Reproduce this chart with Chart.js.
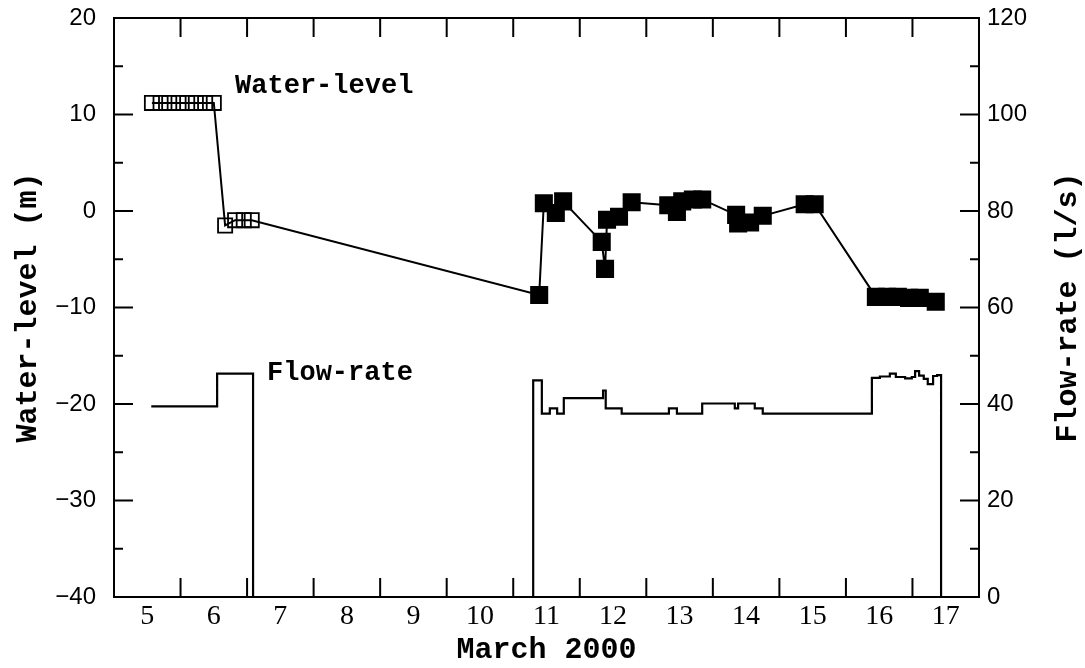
<!DOCTYPE html>
<html>
<head>
<meta charset="utf-8">
<script src="https://cdn.jsdelivr.net/npm/chart.js@4/dist/chart.umd.min.js"></script>
<style>html,body{margin:0;padding:0;background:#fff}</style>
</head>
<body>
<canvas id="chart" width="1085" height="668" style="width:1085px;height:668px"></canvas>
<script>
// day of March 2000 (label 5 = March 5) and readings
const wlDays = [5.07, 5.2, 5.33, 5.47, 5.6, 5.73, 5.87, 6.0, 6.17, 6.32, 6.45, 6.57,
  10.89, 10.96, 11.14, 11.25, 11.83, 11.88, 11.91, 12.09, 12.28, 12.83, 12.96, 13.04,
  13.2, 13.34, 13.85, 13.88, 14.06, 14.25, 14.88, 15.03, 15.95, 16.12, 16.28, 16.45, 16.61, 16.85];
const wlValues = [11.2, 11.2, 11.2, 11.2, 11.2, 11.2, 11.2, 11.2, -1.5, -0.95, -0.95, -0.95,
  -8.7, 0.8, -0.2, 1.0, -3.2, -6.0, -0.9, -0.6, 0.9, 0.6, -0.1, 1.0,
  1.2, 1.2, -0.4, -1.3, -1.2, -0.5, 0.7, 0.7, -8.9, -8.9, -8.9, -9.0, -9.0, -9.4];
const wlOpenCount = 12; // first readings drawn as open squares

const flowDays = [5.06, 6.05, 6.59, 10.80, 10.93, 11.05, 11.16, 11.26, 11.85, 11.89, 12.13,
  12.84, 12.96, 13.34, 13.83, 13.88, 14.13, 14.25, 15.89, 16.01, 16.16, 16.25, 16.39,
  16.49, 16.54, 16.6, 16.67, 16.73, 16.81, 16.87, 16.93, 17.5];
const flowValues = [39.5, 46.3, 0, 44.9, 38.0, 39.1, 38.0, 41.2, 42.8, 39.1, 38.0,
  39.1, 38.0, 40.1, 39.1, 40.1, 39.1, 38.0, 45.4, 45.7, 46.3, 45.6, 45.3,
  45.6, 46.8, 45.9, 45.2, 44.1, 45.8, 46.0, 0, 0];

const xLabels = [5, 6, 7, 8, 9, 10, 11, 12, 13, 14, 15, 16, 17];
const xTickMarks = [5.5, 6.5, 7.5, 8.5, 9.5, 10.5, 11.5, 12.5, 13.5, 14.5, 15.5, 16.5];
const wlTicks = [-40, -30, -20, -10, 0, 10, 20];
const wlMinor = [-35, -25, -15, -5, 5, 15];
const flowTicks = [0, 20, 40, 60, 80, 100, 120];
const flowMinor = [10, 30, 50, 70, 90, 110];

const monoBold = { family: '"Liberation Mono", "DejaVu Sans Mono", monospace', size: 30, weight: 'bold' };

// box, inward tick marks, in-plot labels and right axis title
const frame = {
  id: 'frame',
  afterDraw(chart) {
    const { ctx, chartArea: a, scales } = chart;
    ctx.save();
    ctx.strokeStyle = '#000';
    ctx.lineWidth = 2;
    ctx.strokeRect(a.left, a.top, a.right - a.left, a.bottom - a.top);
    ctx.beginPath();
    xTickMarks.forEach(v => {
      const px = scales.x.getPixelForValue(v);
      ctx.moveTo(px, a.bottom); ctx.lineTo(px, a.bottom - 19);
      ctx.moveTo(px, a.top); ctx.lineTo(px, a.top + 19);
    });
    wlTicks.forEach(v => {
      const py = scales.y.getPixelForValue(v);
      ctx.moveTo(a.left, py); ctx.lineTo(a.left + 19, py);
    });
    wlMinor.forEach(v => {
      const py = scales.y.getPixelForValue(v);
      ctx.moveTo(a.left, py); ctx.lineTo(a.left + 9, py);
    });
    flowTicks.forEach(v => {
      const py = scales.y1.getPixelForValue(v);
      ctx.moveTo(a.right, py); ctx.lineTo(a.right - 19, py);
    });
    flowMinor.forEach(v => {
      const py = scales.y1.getPixelForValue(v);
      ctx.moveTo(a.right, py); ctx.lineTo(a.right - 9, py);
    });
    ctx.stroke();

    ctx.fillStyle = '#000';
    ctx.font = 'bold 27px "Liberation Mono", monospace';
    ctx.textBaseline = 'middle';
    ctx.textAlign = 'left';
    ctx.fillText('Water-level', scales.x.getPixelForValue(6.32), scales.y.getPixelForValue(12.9));
    ctx.fillText('Flow-rate', scales.x.getPixelForValue(6.8), scales.y1.getPixelForValue(46.3));

    ctx.font = 'bold 30px "Liberation Mono", monospace';
    ctx.translate(1068, (a.top + a.bottom) / 2);
    ctx.rotate(-Math.PI / 2);
    ctx.textAlign = 'center';
    ctx.fillText('Flow-rate (l/s)', 0, 0);
    ctx.restore();
  }
};

new Chart(document.getElementById('chart'), {
  type: 'line',
  data: {
    datasets: [{
      label: 'Water-level',
      data: wlDays.map((d, i) => ({ x: d, y: wlValues[i] })),
      yAxisID: 'y',
      borderColor: '#000',
      borderWidth: 2,
      tension: 0,
      pointStyle: 'rect',
      pointRadius: ctx => ctx.dataIndex < wlOpenCount ? 10 : 11.5,
      pointBorderWidth: 1.8,
      pointBorderColor: '#000',
      pointBackgroundColor: ctx => ctx.dataIndex < wlOpenCount ? 'rgba(0,0,0,0)' : '#000'
    }, {
      label: 'Flow-rate',
      data: flowDays.map((d, i) => ({ x: d, y: flowValues[i] })),
      yAxisID: 'y1',
      borderColor: '#000',
      borderWidth: 2.2,
      stepped: true,
      pointRadius: 0
    }]
  },
  options: {
    responsive: false,
    animation: false,
    devicePixelRatio: 1,
    layout: { padding: { top: 18, left: 0, right: 0, bottom: 0 } },
    plugins: { legend: { display: false }, tooltip: { enabled: false } },
    scales: {
      x: {
        type: 'linear',
        min: 4.5, max: 17.5,
        grid: { display: false, drawTicks: false },
        border: { display: false },
        afterBuildTicks: s => { s.ticks = xLabels.map(v => ({ value: v })); },
        afterFit: s => { s.height = 71; s.paddingLeft = 0; s.paddingRight = 0; },
        ticks: {
          color: '#000', padding: 3,
          font: { family: '"Liberation Serif", serif', size: 28 },
          callback: v => String(v)
        },
        title: { display: true, text: 'March 2000', color: '#000', font: monoBold, padding: { top: 0, bottom: 0 } }
      },
      y: {
        position: 'left',
        min: -40, max: 20,
        grid: { display: false, drawTicks: false },
        border: { display: false },
        afterBuildTicks: s => { s.ticks = wlTicks.map(v => ({ value: v })); },
        afterFit: s => { s.width = 114; s.paddingTop = 0; s.paddingBottom = 0; },
        ticks: {
          color: '#000', padding: 18,
          font: { family: '"Liberation Sans", Arial, sans-serif', size: 24 },
          callback: v => String(v).replace('-', '\u2212')
        },
        title: { display: true, text: 'Water-level (m)', color: '#000', font: monoBold, padding: { top: 10, bottom: 0 } }
      },
      y1: {
        position: 'right',
        min: 0, max: 120,
        grid: { display: false, drawTicks: false },
        border: { display: false },
        afterBuildTicks: s => { s.ticks = flowTicks.map(v => ({ value: v })); },
        afterFit: s => { s.width = 106; s.paddingTop = 0; s.paddingBottom = 0; },
        ticks: {
          color: '#000', padding: 8,
          font: { family: '"Liberation Sans", Arial, sans-serif', size: 24 }
        }
      }
    }
  },
  plugins: [frame]
});
</script>
</body>
</html>
